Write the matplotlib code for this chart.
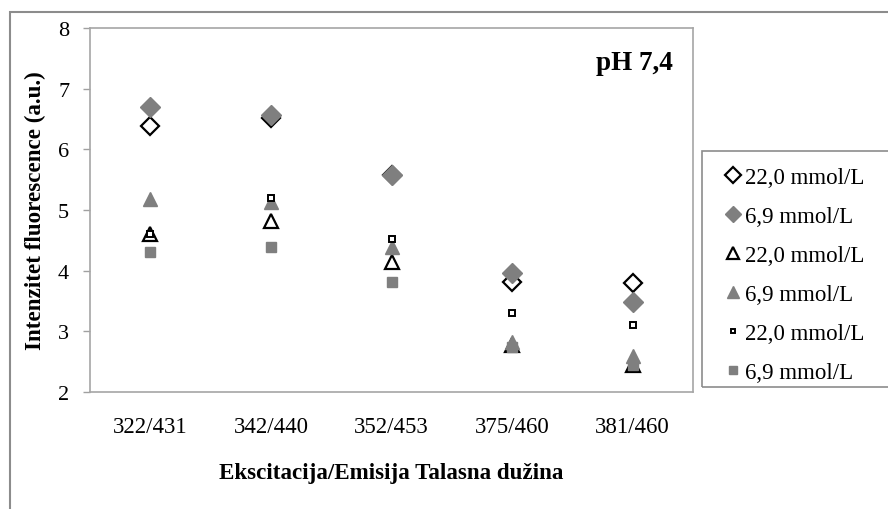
import matplotlib
matplotlib.use("Agg")
import matplotlib.pyplot as plt
from matplotlib.patches import Rectangle

plt.rcParams['font.family'] = ['Liberation Serif', 'DejaVu Serif']

# excitation/emission pairs on the x axis
categories = ["322/431", "342/440", "352/453", "375/460", "381/460"]
labels = ["22,0 mmol/L", "6,9 mmol/L", "22,0 mmol/L",
          "6,9 mmol/L", "22,0 mmol/L", "6,9 mmol/L"]

# fluorescence intensity, one list per series
diamond_22 = [6.38, 6.52, 5.57, 3.82, 3.79]
diamond_69 = [6.69, 6.56, 5.57, 3.96, 3.48]
triangle_22 = [4.60, 4.82, 4.14, 2.78, 2.45]
triangle_69 = [5.18, 5.13, 4.39, 2.82, 2.60]
square_22 = [4.60, 5.19, 4.53, 3.31, 3.11]
square_69 = [4.30, 4.39, 3.81, 2.75, 2.45]

gray = "#7f7f7f"
styles = [
    dict(marker="D", ms=9.0, mfc="white", mec="black", mew=1.6),
    dict(marker="D", ms=9.9, mfc=gray, mec=gray, mew=1),
    dict(marker="^", ms=9.5, mfc="white", mec="black", mew=1.6),
    dict(marker="^", ms=10.5, mfc=gray, mec=gray, mew=1),
    dict(marker="s", ms=4.2, mfc="white", mec="black", mew=1.4),
    dict(marker="s", ms=6.5, mfc=gray, mec=gray, mew=1),
]
series = [diamond_22, diamond_69, triangle_22, triangle_69, square_22, square_69]

fig = plt.figure(figsize=(8.88, 5.10), dpi=100)
# chart area border (runs off the right and bottom edges)
fig.patches.append(Rectangle((10 / 888, -0.1), 1.1, 1 - 13 / 510 + 0.1,
                             transform=fig.transFigure, fill=False,
                             edgecolor="#8c8c8c", linewidth=1.5))

ax = fig.add_axes([90 / 888, 1 - 393 / 510, 603 / 888, 364 / 510])
x = list(range(len(categories)))
for vals, st, lab in zip(series, styles, labels):
    ax.plot(x, vals, linestyle="none", label=lab, **st)

ax.set_xlim(-0.5, len(categories) - 0.5)
ax.set_ylim(2, 8)
ax.set_xticks(x)
ax.set_xticklabels(categories)
ax.set_yticks(range(2, 9))
ax.tick_params(axis="x", length=0, pad=17, labelsize=16.5)
ax.tick_params(axis="y", direction="out", length=5, width=1, color="#a0a0a0",
               pad=10, labelsize=16)
for s in ax.spines.values():
    s.set_color("#a6a6a6")
    s.set_linewidth(1.2)

ax.set_xlabel("Ekscitacija/Emisija Talasna dužina", fontsize=16.6,
              fontweight="bold", labelpad=18)
ax.set_ylabel("Intenzitet fluorescence (a.u.)", fontsize=16.6,
              fontweight="bold", labelpad=9)
ax.text(0.967, 0.905, "pH 7,4", transform=ax.transAxes, ha="right",
        va="center", fontsize=19.5, fontweight="bold")

# legend box drawn separately so it can run off the right edge
fig.patches.append(Rectangle((702 / 888, 1 - 388 / 510), 0.4, 236 / 510,
                             transform=fig.transFigure, fill=False,
                             edgecolor="#8c8c8c", linewidth=1.2))
fig.legend(loc="upper left", bbox_to_anchor=(724 / 888, 1 - 168 / 510),
           frameon=False, fontsize=16.5, handlelength=0.8,
           handletextpad=0.13, labelspacing=0.78, borderpad=0,
           borderaxespad=0, numpoints=1, markerscale=0.85)

fig.savefig("out.png", dpi=100)
